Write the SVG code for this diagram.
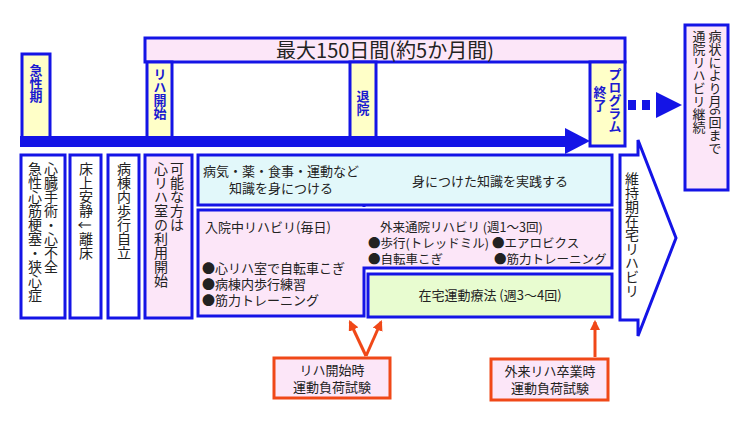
<svg xmlns="http://www.w3.org/2000/svg" width="744" height="421" viewBox="0 0 744 421" font-size="14">
<defs>
<style>
text{font-family:"Noto Sans CJK JP","Noto Sans",sans-serif;fill:#222}
.b{stroke:#1414e6;stroke-width:3}
.y{fill:#ffffc8}.p{fill:#fce6f8}.w{fill:#fff}.c{fill:#e2f8fa}.g{fill:#e8fcd0}
.v{writing-mode:vertical-rl}
.bt{fill:#1a1ad0;font-weight:bold}
.r{stroke:#f04818;stroke-width:3;fill:#fce6f8}
.ra{stroke:#f04818;stroke-width:3;fill:none;marker-end:url(#ra)}
</style>
<marker id="ra" viewBox="0 0 10 10" refX="8" refY="5" markerWidth="3.5" markerHeight="3.5" orient="auto"><path d="M0,0L10,5L0,10z" fill="#f04818"/></marker>
</defs>
<g id="top"><rect class="b p" x="145" y="38" width="480" height="24"/><text x="385" y="58" text-anchor="middle" font-size="20">最大150日間(約5か月間)</text></g>
<g id="acute"><rect class="b y" x="22" y="54" width="28" height="84"/><text class="v bt" x="36" y="64" font-size="13">急性期</text></g>
<g id="start"><rect class="b y" x="147" y="62" width="25" height="76"/><text class="v bt" x="160" y="68" font-size="13">リハ開始</text></g>
<g id="discharge"><rect class="b y" x="350" y="62" width="26" height="76"/><text class="v bt" x="363" y="90" font-size="13">退院</text></g>
<g id="end"><rect class="b y" x="590" y="62" width="35" height="84"/><text class="v bt" x="615" y="68" font-size="13">プログラム</text><text class="v bt" x="600" y="86" font-size="13">終了</text></g>
<g id="cont"><rect class="b p" x="685" y="25" width="43" height="165"/><text class="v" x="715" y="30" font-size="13">病状により月6回まで</text><text class="v" x="699" y="30" font-size="13">通院リハビリ継続</text></g>
<g id="connectors">
<rect x="20" y="136" width="548" height="11" fill="#1414e6"/>
<path d="M565,128L590,141L565,154z" fill="#1414e6"/>
<path d="M628,100h8v10h-8zM642,100h8v10h-8z" fill="#1414e6"/>
<path d="M656,92L682,105L656,118z" fill="#1414e6"/>
<path d="M364,156V268" stroke="#1414e6" stroke-width="3" stroke-dasharray="3,3"/>
<path class="ra" d="M366,356L350,322"/>
<path class="ra" d="M366,356L381,322"/>
<path class="ra" d="M595,357V322"/>
</g>
<g id="n1"><rect class="b w" x="21" y="155" width="44" height="163"/><text class="v" x="51" y="162">心臓手術・心不全</text><text class="v" x="35" y="162">急性心筋梗塞・狭心症</text></g>
<g id="n2"><rect class="b w" x="70" y="155" width="31" height="163"/><text class="v" x="86" y="162">床上安静↓離床</text></g>
<g id="n3"><rect class="b w" x="108" y="155" width="31" height="163"/><text class="v" x="124" y="162">病棟内歩行自立</text></g>
<g id="n4"><rect class="b p" x="145" y="155" width="47" height="163"/><text class="v" x="177" y="162">可能な方は</text><text class="v" x="161" y="162">心リハ室の利用開始</text></g>
<g id="know"><rect class="b c" x="198" y="155" width="414" height="50"/><text x="281" y="176" text-anchor="middle" font-size="13">病気・薬・食事・運動など</text><text x="281" y="193" text-anchor="middle" font-size="13">知識を身につける</text><text x="490" y="186" text-anchor="middle" font-size="13">身につけた知識を実践する</text></g>
<g id="rehab"><path class="b p" d="M198,210H612V268H364V316H198z"/>
<text x="205" y="232" font-size="13">入院中リハビリ(毎日)</text>
<text x="202" y="273" font-size="13">●心リハ室で自転車こぎ</text>
<text x="202" y="289" font-size="13">●病棟内歩行練習</text>
<text x="202" y="305" font-size="13">●筋力トレーニング</text>
<text x="380" y="232" font-size="12.5">外来通院リハビリ (週1～3回)</text>
<text x="368" y="248" font-size="12.5">●歩行(トレッドミル)</text>
<text x="492" y="248" font-size="12.5">●エアロビクス</text>
<text x="368" y="264" font-size="12.5">●自転車こぎ</text>
<text x="494" y="264" font-size="12.5">●筋力トレーニング</text></g>
<g id="home"><rect class="b g" x="368" y="274" width="244" height="43"/><text x="490" y="300" text-anchor="middle" font-size="13">在宅運動療法 (週3～4回)</text></g>
<g id="maint"><path class="b w" d="M620,155H638V140L676,238L638,336V320H620z"/><text class="v" x="632" y="172">維持期在宅リハビリ</text></g>
<g id="t1"><rect class="r" x="274" y="358" width="116" height="40"/><text x="332" y="375" text-anchor="middle" font-size="13">リハ開始時</text><text x="332" y="392" text-anchor="middle" font-size="13">運動負荷試験</text></g>
<g id="t2"><rect class="r" x="491" y="359" width="117" height="41"/><text x="550" y="376" text-anchor="middle" font-size="13">外来リハ卒業時</text><text x="550" y="393" text-anchor="middle" font-size="13">運動負荷試験</text></g>
</svg>
